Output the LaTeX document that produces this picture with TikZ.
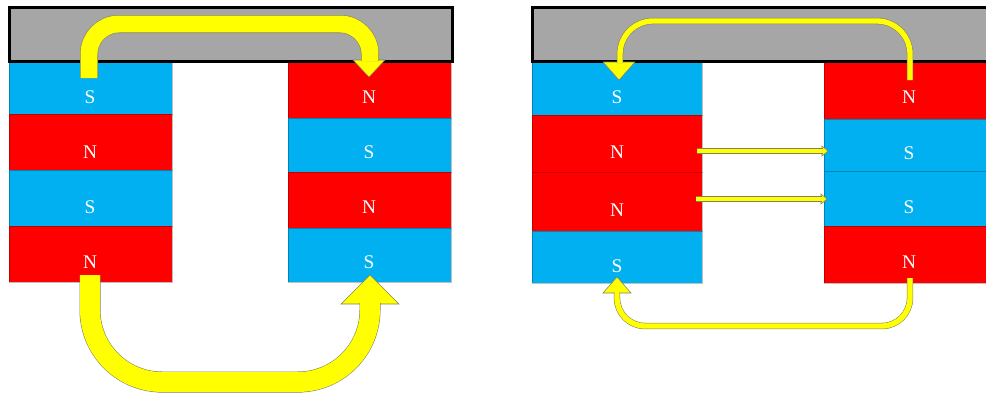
\documentclass[tikz,border=0pt]{standalone}
\usepackage{fontspec}
\setmainfont{Liberation Serif}
\usetikzlibrary{calc}
\definecolor{mblue}{HTML}{00B0F0}
\definecolor{mred}{HTML}{FF0000}
\definecolor{mgray}{HTML}{A6A6A6}
\definecolor{myel}{HTML}{FFFF00}
\definecolor{yedge}{HTML}{808066}
\begin{document}
\begin{tikzpicture}[x=0.75pt,y=-0.75pt,
  stripe/.style={draw=black,draw opacity=0.25,line width=0.5pt,inner sep=0pt,anchor=north west},
  bar/.style={draw=black,fill=mgray,line width=2.25pt,inner sep=0pt,anchor=north west},
  lbl/.style={text=white,font=\fontsize{14.5}{16}\selectfont,inner sep=0pt},
  flux/.style={draw=yedge,line width=0.4pt,double=myel},
  head/.style={fill=myel,draw=yedge,line width=0.4pt,line join=miter}]
\clip (0,0) rectangle (986,396);
% ---------- left diagram: magnets ----------
\node[stripe,fill=mblue,minimum width=122.25pt,minimum height=40.5pt] (LA1) at (9,60) {};
\node[stripe,fill=mred, minimum width=122.25pt,minimum height=42pt]   (LA2) at (9,114) {};
\node[stripe,fill=mblue,minimum width=122.25pt,minimum height=42pt]   (LA3) at (9,170) {};
\node[stripe,fill=mred, minimum width=122.25pt,minimum height=42pt]   (LA4) at (9,226) {};
\node[stripe,fill=mred, minimum width=122.25pt,minimum height=43.5pt] (LB1) at (288,60) {};
\node[stripe,fill=mblue,minimum width=122.25pt,minimum height=40.5pt] (LB2) at (288,118) {};
\node[stripe,fill=mred, minimum width=122.25pt,minimum height=42pt]   (LB3) at (288,172) {};
\node[stripe,fill=mblue,minimum width=122.25pt,minimum height=40.5pt] (LB4) at (288,228) {};
\node[bar,minimum width=332.25pt,minimum height=40.5pt] (GA) at (8,6) {};
\node[lbl] (tLA1) at (90,97) {S};
\node[lbl] (tLA2) at (90,152) {N};
\node[lbl] (tLA3) at (90,207) {S};
\node[lbl] (tLA4) at (90,262) {N};
\node[lbl] (tLB1) at (369,97) {N};
\node[lbl] (tLB2) at (369,152) {S};
\node[lbl] (tLB3) at (369,207) {N};
\node[lbl] (tLB4) at (369,262) {S};
% ---------- right diagram: magnets ----------
\node[stripe,fill=mblue,minimum width=127.5pt,minimum height=41.25pt] (RA1) at (532,60) {};
\node[stripe,fill=mred, minimum width=127.5pt,minimum height=42.75pt] (RA2) at (532,115) {};
\node[stripe,fill=mred, minimum width=127.5pt,minimum height=44.25pt] (RA3) at (532,172) {};
\node[stripe,fill=mblue,minimum width=127.5pt,minimum height=39pt]    (RA4) at (532,231) {};
\node[stripe,fill=mred, minimum width=127.5pt,minimum height=44.25pt] (RB1) at (824,60) {};
\node[stripe,fill=mblue,minimum width=127.5pt,minimum height=39pt]    (RB2) at (824,119) {};
\node[stripe,fill=mblue,minimum width=127.5pt,minimum height=41.25pt] (RB3) at (824,171) {};
\node[stripe,fill=mred, minimum width=127.5pt,minimum height=42.75pt] (RB4) at (824,226) {};
\node[bar,minimum width=352.5pt,minimum height=40.5pt] (GB) at (531,6) {};
\node[lbl] (tRA1) at (617,97) {S};
\node[lbl] (tRA2) at (617,152) {N};
\node[lbl] (tRA3) at (617,210) {N};
\node[lbl] (tRA4) at (617,266) {S};
\node[lbl] (tRB1) at (909,97) {N};
\node[lbl] (tRB2) at (909,153) {S};
\node[lbl] (tRB3) at (909,207) {S};
\node[lbl] (tRB4) at (909,262) {N};
% ---------- arrow end points ----------
\coordinate (a1s) at (89,78);   \coordinate (a1m) at (230,24);  \coordinate (a1e) at (370,61);  \coordinate (a1t) at (369,77);
\coordinate (a2s) at (90,275);  \coordinate (a2m) at (230,382); \coordinate (a2e) at (370,303); \coordinate (a2t) at (370,275);
\coordinate (a3s) at (910,80);  \coordinate (a3m) at (760,21);  \coordinate (a3e) at (620,63);  \coordinate (a3t) at (619,80);
\coordinate (a4s) at (910,278); \coordinate (a4m) at (760,326); \coordinate (a4e) at (617,292); \coordinate (a4t) at (617,277);
\coordinate (a5s) at (697,151); \coordinate (a5e) at (823,151); \coordinate (a5t) at (828,151);
\coordinate (a6s) at (696,199); \coordinate (a6e) at (822,199); \coordinate (a6t) at (827,199);
% ---------- arrows ----------
\draw[head] ($(a1t)+(-16,-17)$) -- ($(a1t)+(16,-17)$) -- (a1t) -- cycle;
\draw[flux,double distance=12.7pt,rounded corners=22.5pt] (a1s) |- (a1m) -| (a1e);
\draw[head] ($(a2t)+(-29,29)$) -- ($(a2t)+(29,29)$) -- (a2t) -- cycle;
\draw[flux,double distance=14.95pt,rounded corners=54pt] (a2s) |- (a2m) -| (a2e);
\draw[head] ($(a3t)+(-16,-18)$) -- ($(a3t)+(16,-18)$) -- (a3t) -- cycle;
\draw[flux,double distance=4pt,rounded corners=24.75pt] (a3s) |- (a3m) -| (a3e);
\draw[head] ($(a4t)+(-14,16)$) -- ($(a4t)+(14,16)$) -- (a4t) -- cycle;
\draw[flux,double distance=4pt,rounded corners=21pt] (a4s) |- (a4m) -| (a4e);
\draw[head] ($(a5t)+(-6,-5)$) -- ($(a5t)+(-6,5)$) -- (a5t) -- cycle;
\draw[flux,double distance=3.6pt] (a5s) -- (a5e);
\draw[head] ($(a6t)+(-6,-5)$) -- ($(a6t)+(-6,5)$) -- (a6t) -- cycle;
\draw[flux,double distance=3.6pt] (a6s) -- (a6e);
\end{tikzpicture}
\end{document}
